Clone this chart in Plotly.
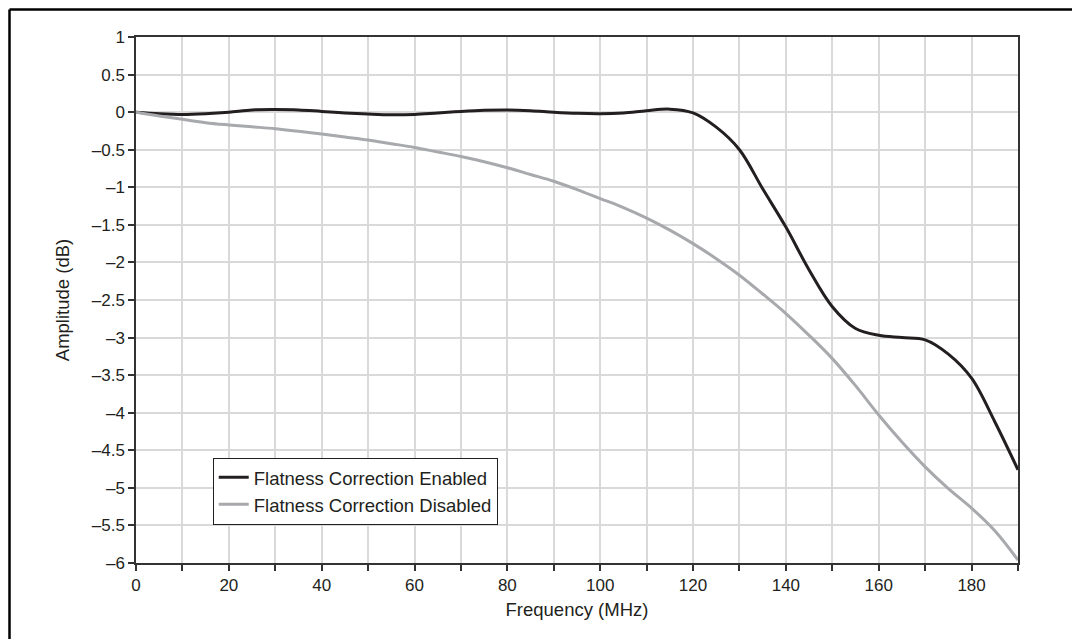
import plotly.graph_objects as go

freq = list(range(0, 195, 5))
enabled = [0.0, -0.02, -0.03, -0.02, 0.0, 0.03, 0.035, 0.03, 0.01, -0.01,
           -0.025, -0.035, -0.03, -0.01, 0.01, 0.025, 0.03, 0.02, 0.0, -0.015,
           -0.02, -0.01, 0.02, 0.04, -0.01, -0.2, -0.5, -1.02, -1.53, -2.1,
           -2.59, -2.88, -2.97, -3.0, -3.03, -3.22, -3.54, -4.12, -4.76]
disabled = [0.0, -0.05, -0.095, -0.14, -0.17, -0.195, -0.22, -0.255, -0.29, -0.33,
            -0.37, -0.42, -0.47, -0.53, -0.59, -0.66, -0.74, -0.83, -0.92, -1.03,
            -1.15, -1.27, -1.41, -1.57, -1.75, -1.95, -2.17, -2.42, -2.68, -2.97,
            -3.28, -3.64, -4.03, -4.39, -4.72, -5.01, -5.27, -5.57, -5.96]

x_tickvals = list(range(0, 200, 10))
x_ticktext = [str(v) if v % 20 == 0 else "" for v in x_tickvals]
y_tickvals = [1, 0.5, 0, -0.5, -1, -1.5, -2, -2.5, -3, -3.5, -4, -4.5, -5, -5.5, -6]
y_ticktext = [("\u2013" + f"{abs(v):g}") if v < 0 else f"{v:g}" for v in y_tickvals]

TXT = "#231f20"
FONT = "Liberation Sans, Arial, Helvetica, sans-serif"
FS = 17
FT = 18.5

fig = go.Figure()
fig.add_trace(go.Scatter(x=freq, y=enabled, mode="lines", name="Flatness Correction Enabled",
                         line=dict(color="#231f20", width=3, shape="spline", smoothing=1.0)))
fig.add_trace(go.Scatter(x=freq, y=disabled, mode="lines", name="Flatness Correction Disabled",
                         line=dict(color="#a7a9ac", width=3, shape="spline", smoothing=1.0)))

# page body adds an 8px offset; figure sized so plot area lands where the reference has it
W, H = 1072, 631
L, R, T = 128, 62, 29
ph = 526
B = H - T - ph
pw = W - L - R
bx = (1.5 - L) / pw
by = (H - B - 1.5) / ph

fig.update_layout(
    width=W, height=H,
    margin=dict(l=L, r=R, t=T, b=B),
    paper_bgcolor="white", plot_bgcolor="white",
    font=dict(family=FONT, size=FS, color=TXT),
    showlegend=True,
    legend=dict(x=0.087, y=0.2, xanchor="left", yanchor="top",
                bordercolor="#231f20", borderwidth=1, bgcolor="white",
                font=dict(size=FT, color=TXT), tracegroupgap=0,
                itemwidth=30),
    shapes=[
        dict(type="line", xref="paper", yref="paper", x0=bx, x1=1.2, y0=by, y1=by,
             line=dict(color="black", width=2.5)),
        dict(type="line", xref="paper", yref="paper", x0=bx, x1=bx, y0=by, y1=-0.3,
             line=dict(color="black", width=2.5)),
    ],
)
fig.update_xaxes(range=[0, 190], tickvals=x_tickvals, ticktext=x_ticktext,
                 showgrid=True, gridcolor="#d9d9d9", gridwidth=1.5,
                 showline=True, linecolor="#333333", linewidth=1.5, mirror=True,
                 ticks="outside", ticklen=6, tickcolor="#333333", tickwidth=1.5,
                 zeroline=False, tickfont=dict(size=FS),
                 title=dict(text="Frequency (MHz)", standoff=9, font=dict(size=FT, color=TXT)))
fig.update_yaxes(range=[-6, 1], tickvals=y_tickvals, ticktext=y_ticktext,
                 showgrid=True, gridcolor="#d9d9d9", gridwidth=1.5,
                 showline=True, linecolor="#333333", linewidth=1.5, mirror=True,
                 ticks="outside", ticklen=6, tickcolor="#333333", tickwidth=1.5,
                 zeroline=False, tickfont=dict(size=FS),
                 title=dict(text="Amplitude (dB)", standoff=17, font=dict(size=FT, color=TXT)))

fig.write_html("out.html")
